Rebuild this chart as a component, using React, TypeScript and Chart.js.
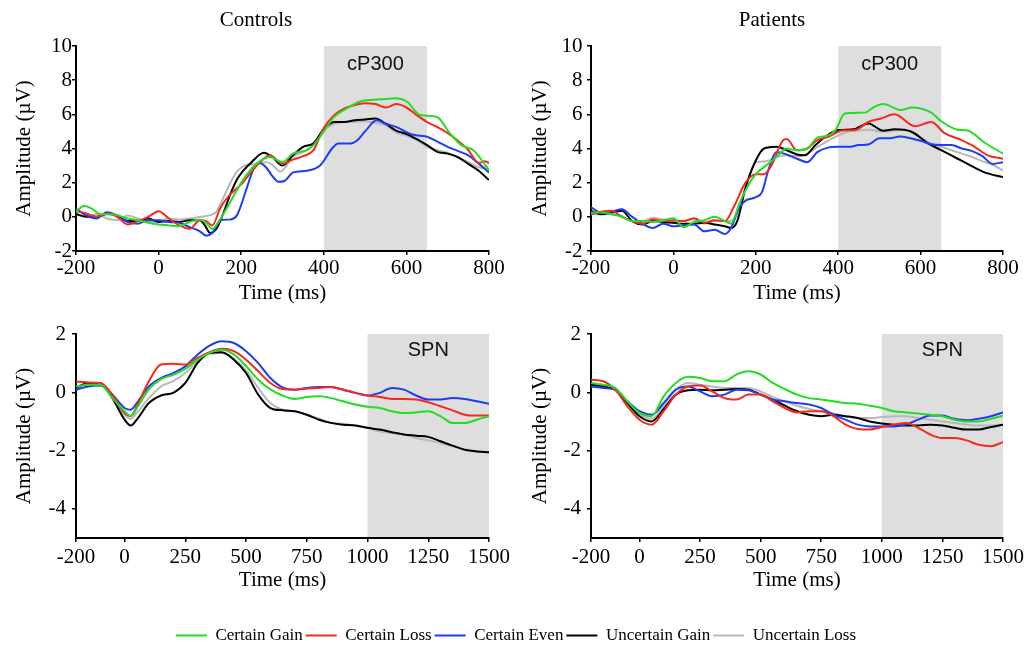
import React, { useEffect, useRef } from "react";
import { Chart, registerables } from "chart.js";

Chart.register(...registerables);

type P = [number, number];

const seriesNames = ["Certain Gain", "Certain Loss", "Certain Even", "Uncertain Gain", "Uncertain Loss"];
const seriesColors = ["#22dd22", "#f52a1e", "#1f3cf5", "#000000", "#b8b8b8"];

const cp300XTicks = [-200, 0, 200, 400, 600, 800];
const cp300YTicks = [-2, 0, 2, 4, 6, 8, 10];
const spnXTicks = [-200, 0, 250, 500, 750, 1000, 1250, 1500];
const spnYTicks = [-4, -2, 0, 2];
const cp300Window = [400, 650];
const spnWindow = [1000, 1500];

// ---- Controls, cP300 ----
const ctrlP3Gain: P[] = [[-200,0.3],[-180,0.65],[-160,0.45],[-140,0.15],[-120,0.15],[-100,0.1],[-75,-0.1],[-50,-0.2],[-25,-0.35],[0,-0.45],[25,-0.5],[50,-0.55],[75,-0.3],[100,-0.15],[115,-0.35],[130,-0.7],[150,-0.1],[172,0.8],[204,2.15],[237,3.1],[269,3.5],[300,3.2],[325,3.7],[359,3.9],[375,4.2],[400,5.0],[425,5.85],[456,6.35],[488,6.75],[520,6.85],[550,6.9],[569,6.94],[601,6.75],[633,5.96],[673,5.86],[705,4.9],[733,4.2],[762,3.9],[780,3.4],[800,2.7]];
const ctrlP3Loss: P[] = [[-200,0.33],[-175,0.2],[-150,0],[-125,0.2],[-100,0],[-75,-0.45],[-50,-0.25],[-25,0],[0,0.33],[25,-0.1],[50,-0.5],[75,-0.7],[100,-0.2],[115,-0.25],[130,-0.5],[150,0.55],[175,1.35],[200,1.9],[225,2.65],[250,3.3],[270,3.6],[300,3.1],[325,3.35],[350,3.55],[375,3.9],[400,5.2],[425,5.95],[450,6.35],[475,6.55],[500,6.65],[525,6.6],[550,6.4],[575,6.6],[600,6.4],[625,5.95],[650,5.55],[675,5.25],[700,4.9],[725,4.45],[750,3.9],[775,3.15],[790,3.25],[800,3.15]];
const ctrlP3Even: P[] = [[-200,0.47],[-175,0.08],[-150,-0.1],[-125,0.27],[-100,0.08],[-75,-0.3],[-50,-0.4],[-25,-0.2],[0,-0.2],[25,-0.3],[50,-0.35],[75,-0.6],[100,-0.85],[115,-1.1],[130,-0.95],[150,-0.2],[175,-0.15],[190,0.1],[200,0.7],[215,1.8],[230,2.8],[245,3.15],[260,2.9],[275,2.4],[290,2.05],[305,2.1],[326,2.6],[359,2.7],[391,3.0],[420,4.0],[435,4.3],[465,4.3],[480,4.45],[500,5.0],[528,5.65],[550,5.45],[576,5.25],[616,4.8],[648,4.7],[675,4.4],[700,4.1],[725,3.85],[750,3.6],[776,3.1],[800,2.6]];
const ctrlP3UGain: P[] = [[-200,0.17],[-175,0],[-150,0],[-125,0.17],[-100,0.08],[-75,-0.25],[-50,-0.25],[-25,-0.1],[0,-0.3],[25,-0.25],[50,-0.3],[75,-0.2],[100,-0.2],[112,-0.5],[125,-0.95],[140,-0.7],[155,0.1],[175,1.4],[190,2.2],[205,2.7],[225,3.2],[255,3.75],[275,3.5],[300,3.0],[325,3.6],[350,4.1],[375,4.3],[400,5.15],[425,5.55],[450,5.55],[475,5.65],[500,5.7],[525,5.75],[550,5.45],[575,5.05],[600,4.85],[625,4.55],[650,4.2],[675,3.8],[700,3.7],[725,3.5],[750,3.1],[775,2.7],[800,2.15]];
const ctrlP3ULoss: P[] = [[-200,0.17],[-175,0],[-150,0.17],[-125,-0.1],[-100,-0.2],[-75,0.08],[-50,-0.1],[-25,-0.3],[0,-0.25],[25,-0.1],[50,-0.15],[75,-0.1],[100,0],[125,0.1],[140,0.3],[165,1.55],[188,2.6],[205,2.95],[237,3.1],[262,3.2],[277,3.0],[295,2.65],[325,3.5],[350,3.8],[375,4.2],[400,5.05],[425,5.45],[450,5.55],[475,5.55],[500,5.6],[525,5.5],[550,5.35],[575,4.95],[600,4.75],[625,4.5],[650,4.1],[675,3.9],[700,3.75],[725,3.45],[750,3.2],[775,2.9],[800,2.8]];

// ---- Patients, cP300 ----
const patP3Gain: P[] = [[-200,0.25],[-175,0.25],[-150,0.15],[-125,0],[-100,-0.25],[-75,-0.25],[-50,-0.3],[-25,-0.2],[0,-0.08],[25,-0.6],[50,-0.3],[75,-0.2],[100,0],[125,-0.25],[140,-0.4],[160,0.75],[175,1.55],[200,2.5],[225,3.0],[250,3.5],[275,4.0],[300,3.9],[325,4.0],[350,4.65],[375,4.75],[394,5.1],[416,6.05],[465,6.1],[485,6.4],[509,6.6],[553,6.25],[578,6.4],[626,6.1],[650,5.6],[690,5.1],[714,5.05],[755,4.35],[800,3.7]];
const patP3Loss: P[] = [[-200,0.15],[-175,0.3],[-150,0.35],[-125,0],[-100,-0.25],[-75,-0.4],[-50,-0.15],[-25,-0.25],[0,-0.2],[25,-0.25],[50,-0.08],[75,-0.35],[100,-0.2],[125,-0.25],[150,0.75],[175,2.0],[200,2.5],[220,2.5],[240,3.1],[265,4.45],[275,4.55],[300,3.9],[325,4.0],[350,4.5],[377,4.69],[409,5.05],[441,5.08],[473,5.55],[505,5.76],[537,6.0],[586,5.3],[626,5.55],[658,4.9],[698,4.5],[731,4.1],[763,3.6],[800,3.4]];
const patP3Even: P[] = [[-200,0.55],[-175,0.25],[-150,0.3],[-125,0.45],[-100,0],[-75,-0.4],[-50,-0.65],[-25,-0.4],[0,-0.55],[25,-0.5],[50,-0.45],[75,-0.85],[100,-0.75],[125,-1.0],[140,-0.65],[160,0.55],[175,0.95],[200,1.15],[215,1.45],[230,2.7],[250,3.8],[275,3.65],[300,3.4],[325,3.2],[350,3.8],[375,4.05],[400,4.1],[425,4.1],[450,4.2],[475,4.25],[500,4.6],[525,4.6],[550,4.7],[575,4.6],[600,4.45],[625,4.25],[650,4.2],[675,4.2],[700,4.0],[725,3.85],[750,3.55],[775,3.1],[800,3.2]];
const patP3UGain: P[] = [[-200,0.35],[-175,0.15],[-150,0.25],[-125,0.35],[-100,-0.25],[-75,-0.45],[-50,-0.25],[-25,-0.3],[0,-0.35],[25,-0.4],[50,-0.4],[75,-0.35],[100,-0.45],[125,-0.55],[140,-0.65],[155,-0.25],[175,1.7],[200,3.3],[220,4.0],[250,4.1],[275,3.9],[300,3.65],[319,3.6],[345,4.2],[369,4.69],[401,5.08],[437,5.12],[473,5.47],[509,5.04],[537,5.12],[578,4.98],[618,4.3],[650,3.9],[690,3.4],[714,3.1],[755,2.6],[800,2.33]];
const patP3ULoss: P[] = [[-200,0.15],[-175,0.15],[-150,0.15],[-125,0.05],[-100,-0.25],[-75,-0.25],[-50,-0.05],[-25,-0.15],[0,-0.25],[25,-0.25],[50,-0.15],[75,-0.4],[100,-0.25],[125,-0.25],[140,-0.25],[155,0.35],[175,1.7],[200,3.2],[225,3.25],[250,3.5],[275,3.6],[300,3.55],[325,3.7],[350,4.1],[375,4.45],[400,4.75],[425,5.0],[450,5.05],[475,5.1],[500,5.0],[525,5.0],[550,5.1],[575,5.0],[600,4.65],[625,4.3],[650,4.1],[675,3.9],[700,3.7],[725,3.5],[750,3.25],[775,3.05],[800,2.7]];

// ---- Controls, SPN ----
const ctrlSpnGain: P[] = [[-200,0.2],[-150,0.26],[-100,0.26],[-50,-0.2],[0,-0.65],[25,-0.82],[50,-0.55],[100,0.1],[150,0.45],[200,0.6],[250,0.8],[300,1.12],[350,1.35],[400,1.46],[450,1.3],[500,0.9],[550,0.43],[600,0.1],[650,-0.11],[700,-0.23],[750,-0.16],[800,-0.14],[850,-0.2],[900,-0.31],[950,-0.42],[1000,-0.5],[1050,-0.54],[1100,-0.65],[1150,-0.71],[1200,-0.69],[1250,-0.65],[1300,-0.82],[1350,-1.05],[1400,-1.05],[1450,-0.94],[1500,-0.82]];
const ctrlSpnLoss: P[] = [[-200,0.37],[-150,0.34],[-100,0.32],[-50,-0.08],[0,-0.71],[25,-0.82],[50,-0.48],[100,0.38],[150,0.95],[200,0.98],[250,0.95],[300,1.18],[350,1.38],[400,1.49],[450,1.41],[500,1.12],[550,0.72],[600,0.32],[650,0.11],[700,0.09],[750,0.13],[800,0.15],[850,0.18],[900,0.09],[950,-0.02],[1000,-0.11],[1050,-0.16],[1100,-0.23],[1150,-0.23],[1200,-0.25],[1250,-0.34],[1300,-0.48],[1350,-0.62],[1400,-0.77],[1450,-0.8],[1500,-0.8]];
const ctrlSpnEven: P[] = [[-200,0.09],[-150,0.2],[-100,0.23],[-50,-0.08],[0,-0.54],[25,-0.6],[50,-0.37],[100,0.2],[150,0.49],[200,0.66],[250,0.89],[300,1.29],[350,1.6],[400,1.75],[450,1.69],[500,1.41],[550,1.0],[600,0.49],[650,0.17],[700,0.09],[750,0.15],[800,0.18],[850,0.18],[900,0.09],[950,-0.02],[1000,-0.11],[1050,-0.02],[1100,0.15],[1150,0.09],[1200,-0.11],[1250,-0.25],[1300,-0.25],[1350,-0.2],[1400,-0.23],[1450,-0.31],[1500,-0.39]];
const ctrlSpnUGain: P[] = [[-200,0.15],[-150,0.32],[-100,0.32],[-50,-0.2],[0,-0.94],[25,-1.14],[50,-0.94],[100,-0.37],[150,-0.11],[200,-0.02],[250,0.32],[300,1.0],[350,1.35],[400,1.37],[450,1.12],[500,0.66],[550,-0.08],[600,-0.54],[650,-0.62],[700,-0.65],[750,-0.77],[800,-0.94],[850,-1.05],[900,-1.11],[950,-1.14],[1000,-1.22],[1050,-1.28],[1100,-1.37],[1150,-1.45],[1200,-1.49],[1250,-1.53],[1300,-1.68],[1350,-1.83],[1400,-1.97],[1450,-2.03],[1500,-2.06]];
const ctrlSpnULoss: P[] = [[-200,0.2],[-150,0.26],[-100,0.26],[-50,-0.2],[0,-0.77],[25,-0.91],[50,-0.71],[100,-0.2],[150,0.2],[200,0.38],[250,0.66],[300,1.06],[350,1.33],[400,1.35],[450,1.14],[500,0.75],[550,0.15],[600,-0.37],[650,-0.6],[700,-0.65],[750,-0.77],[800,-0.91],[850,-1.05],[900,-1.08],[950,-1.14],[1000,-1.22],[1050,-1.34],[1100,-1.4],[1150,-1.45],[1200,-1.57],[1250,-1.65],[1300,-1.74],[1350,-1.85],[1400,-1.97],[1450,-2.02],[1500,-2.06]];

// ---- Patients, SPN ----
const patSpnGain: P[] = [[-200,0.32],[-150,0.26],[-100,0.15],[-50,-0.31],[0,-0.71],[50,-0.82],[100,-0.14],[150,0.32],[200,0.53],[250,0.49],[300,0.38],[350,0.38],[400,0.61],[450,0.72],[500,0.61],[550,0.32],[600,0.11],[650,-0.08],[700,-0.2],[750,-0.25],[800,-0.31],[850,-0.37],[900,-0.39],[950,-0.46],[1000,-0.54],[1050,-0.65],[1100,-0.69],[1150,-0.73],[1200,-0.77],[1250,-0.82],[1300,-0.94],[1350,-1.0],[1400,-1.0],[1450,-0.91],[1500,-0.8]];
const patSpnLoss: P[] = [[-200,0.43],[-150,0.38],[-100,0.09],[-50,-0.48],[0,-0.94],[50,-1.11],[100,-0.65],[150,-0.08],[200,0.2],[250,0.23],[300,0.03],[350,-0.2],[400,-0.25],[450,-0.08],[500,-0.08],[550,-0.31],[600,-0.54],[650,-0.69],[700,-0.65],[750,-0.65],[800,-0.82],[850,-1.11],[900,-1.26],[950,-1.28],[1000,-1.19],[1050,-1.11],[1100,-1.05],[1150,-1.22],[1200,-1.45],[1250,-1.57],[1300,-1.57],[1350,-1.65],[1400,-1.8],[1450,-1.85],[1500,-1.71]];
const patSpnEven: P[] = [[-200,0.2],[-150,0.15],[-100,0.09],[-50,-0.31],[0,-0.65],[50,-0.77],[100,-0.37],[150,0.09],[200,0.2],[250,0.03],[300,-0.14],[350,-0.08],[400,0.09],[450,0.07],[500,-0.08],[550,-0.25],[600,-0.31],[650,-0.37],[700,-0.42],[750,-0.54],[800,-0.77],[850,-0.94],[900,-1.11],[950,-1.17],[1000,-1.17],[1050,-1.17],[1100,-1.11],[1150,-0.94],[1200,-0.8],[1250,-0.8],[1300,-0.91],[1350,-0.96],[1400,-0.91],[1450,-0.82],[1500,-0.69]];
const patSpnUGain: P[] = [[-200,0.26],[-150,0.2],[-100,0.09],[-50,-0.37],[0,-0.82],[50,-1.0],[100,-0.57],[150,-0.08],[200,0.07],[250,0.09],[300,0.07],[350,0.09],[400,0.11],[450,0.09],[500,-0.08],[550,-0.25],[600,-0.46],[650,-0.65],[700,-0.77],[750,-0.82],[800,-0.77],[850,-0.82],[900,-0.88],[950,-1.0],[1000,-1.07],[1050,-1.11],[1100,-1.14],[1150,-1.14],[1200,-1.11],[1250,-1.14],[1300,-1.22],[1350,-1.28],[1400,-1.28],[1450,-1.19],[1500,-1.11]];
const patSpnULoss: P[] = [[-200,0.3],[-150,0.23],[-100,0.11],[-50,-0.31],[0,-0.74],[50,-0.91],[100,-0.46],[150,0.09],[200,0.32],[250,0.26],[300,0.2],[350,0.15],[400,0.15],[450,0.15],[500,0.03],[550,-0.16],[600,-0.31],[650,-0.46],[700,-0.57],[750,-0.65],[800,-0.73],[850,-0.82],[900,-0.88],[950,-0.88],[1000,-0.85],[1050,-0.82],[1100,-0.82],[1150,-0.88],[1200,-0.94],[1250,-1.0],[1300,-1.05],[1350,-1.11],[1400,-1.14],[1450,-1.14],[1500,-1.11]];

const SERIF = '"Liberation Serif", "Times New Roman", serif';
const SANS = '"Liberation Sans", Arial, sans-serif';

const windowPlugin = {
  id: "windowShade",
  beforeDraw(chart: any, _args: any, opts: any) {
    const { ctx, chartArea, scales } = chart;
    const x0 = scales.x.getPixelForValue(opts.from);
    const x1 = scales.x.getPixelForValue(opts.to);
    ctx.save();
    ctx.fillStyle = "#dedede";
    ctx.fillRect(x0, chartArea.top, x1 - x0, chartArea.bottom - chartArea.top);
    ctx.fillStyle = "#111111";
    ctx.font = `20px ${SANS}`;
    ctx.textAlign = "center";
    ctx.textBaseline = "alphabetic";
    ctx.fillText(opts.label, (x0 + x1) / 2, chartArea.top + opts.labelOffset);
    ctx.restore();
  },
};

const panelTitlePlugin = {
  id: "panelTitle",
  afterDraw(chart: any, _args: any, opts: any) {
    if (!opts || !opts.text) return;
    const { ctx } = chart;
    ctx.save();
    ctx.fillStyle = "#000";
    ctx.font = `21px ${SERIF}`;
    ctx.textAlign = "center";
    ctx.textBaseline = "alphabetic";
    ctx.fillText(opts.text, opts.x, opts.y);
    ctx.restore();
  },
};

type PanelProps = {
  left: number; top: number; width: number; height: number;
  title?: string;
  series: P[][];
  xMin: number; xMax: number; yMin: number; yMax: number;
  xTicks: number[]; yTicks: number[];
  win: number[]; winLabel: string; winLabelOffset: number;
  yWidth: number; padRight: number; padTop: number;
  xHeight: number; xTickPad: number; yTickPad: number; xTitlePad: number;
};

function Panel(p: PanelProps) {
  const ref = useRef<HTMLCanvasElement>(null);
  useEffect(() => {
    if (!ref.current) return;
    const axisGrid = { display: true, drawOnChartArea: false, drawTicks: true, tickLength: 4, color: "#000", lineWidth: 1.5 };
    const chart = new Chart(ref.current, {
      type: "line",
      data: {
        datasets: p.series.map((s, i) => ({
          label: seriesNames[i],
          data: s.map(([x, y]) => ({ x, y })),
          borderColor: seriesColors[i],
          backgroundColor: seriesColors[i],
          borderWidth: 2,
          pointRadius: 0,
          cubicInterpolationMode: "monotone" as const,
          fill: false,
        })),
      },
      plugins: [windowPlugin as any, panelTitlePlugin as any],
      options: {
        animation: false,
        responsive: false,
        events: [],
        layout: { padding: { left: 0, right: p.padRight, top: p.padTop, bottom: 0 } },
        plugins: {
          legend: { display: false },
          tooltip: { enabled: false },
          title: { display: false },
          panelTitle: { text: p.title || "", x: 256, y: 26 },
          windowShade: { from: p.win[0], to: p.win[1], label: p.winLabel, labelOffset: p.winLabelOffset },
        } as any,
        scales: {
          x: {
            type: "linear",
            min: p.xMin,
            max: p.xMax,
            afterBuildTicks: (s: any) => { s.ticks = p.xTicks.map((v) => ({ value: v })); },
            afterFit: (s: any) => { s.height = p.xHeight; },
            border: { display: true, color: "#000", width: 2 },
            grid: axisGrid,
            ticks: { color: "#000", font: { family: SERIF, size: 21 }, padding: p.xTickPad, maxRotation: 0, autoSkip: false, callback: (v: any) => String(v) },
            title: { display: true, text: "Time (ms)", color: "#000", font: { family: SERIF, size: 21 }, padding: { top: 0, bottom: p.xTitlePad } },
          },
          y: {
            type: "linear",
            min: p.yMin,
            max: p.yMax,
            afterBuildTicks: (s: any) => { s.ticks = p.yTicks.map((v) => ({ value: v })); },
            afterFit: (s: any) => { s.width = p.yWidth; },
            border: { display: true, color: "#000", width: 2 },
            grid: axisGrid,
            ticks: { color: "#000", font: { family: SERIF, size: 21 }, padding: p.yTickPad, callback: (v: any) => String(v) },
            title: { display: true, text: "Amplitude (\u00B5V)", color: "#000", font: { family: SERIF, size: 21 }, padding: { top: 11.5, bottom: 0 } },
          },
        },
      } as any,
    });
    return () => chart.destroy();
  }, []);
  return (
    <canvas
      ref={ref}
      width={p.width}
      height={p.height}
      style={{ position: "absolute", left: p.left, top: p.top, width: p.width, height: p.height }}
    />
  );
}

function Legend() {
  const ref = useRef<HTMLCanvasElement>(null);
  useEffect(() => {
    if (!ref.current) return;
    const chart = new Chart(ref.current, {
      type: "line",
      data: {
        datasets: seriesNames.map((n, i) => ({ label: n, data: [], borderColor: seriesColors[i], backgroundColor: seriesColors[i], borderWidth: 2 })),
      },
      options: {
        animation: false,
        responsive: false,
        events: [],
        layout: { padding: 0 },
        scales: { x: { display: false }, y: { display: false } },
        plugins: {
          tooltip: { enabled: false },
          legend: {
            display: true,
            position: "top",
            labels: { usePointStyle: true, pointStyle: "line", pointStyleWidth: 31, color: "#000", font: { family: SERIF, size: 17 }, padding: 3 },
          },
        },
      } as any,
    });
    return () => chart.destroy();
  }, []);
  return <canvas ref={ref} width={1032} height={80} style={{ position: "absolute", left: 0, top: 624, width: 1032, height: 80 }} />;
}

export default function App() {
  const topCommon = {
    top: 0, height: 310, width: 516,
    xMin: -200, xMax: 800, yMin: -2, yMax: 10,
    xTicks: cp300XTicks, yTicks: cp300YTicks,
    win: cp300Window, winLabel: "cP300", winLabelOffset: 24,
    padTop: 46, xHeight: 59, xTickPad: 1, xTitlePad: 4,
  };
  const botCommon = {
    top: 310, height: 300, width: 516,
    xMin: -200, xMax: 1500, yMin: -5, yMax: 2,
    xTicks: spnXTicks, yTicks: spnYTicks,
    win: spnWindow, winLabel: "SPN", winLabelOffset: 22,
    padTop: 24, xHeight: 72, xTickPad: 3, xTitlePad: 17,
  };
  return (
    <div style={{ position: "absolute", left: 0, top: 0, width: 1032, height: 650, background: "#fff", overflow: "hidden" }}>
      <Panel {...topCommon} left={0} title="Controls" series={[ctrlP3Gain, ctrlP3Loss, ctrlP3Even, ctrlP3UGain, ctrlP3ULoss]} yWidth={76} padRight={27} yTickPad={0} />
      <Panel {...topCommon} left={516} title="Patients" series={[patP3Gain, patP3Loss, patP3Even, patP3UGain, patP3ULoss]} yWidth={75} padRight={29} yTickPad={4.5} />
      <Panel {...botCommon} left={0} series={[ctrlSpnGain, ctrlSpnLoss, ctrlSpnEven, ctrlSpnUGain, ctrlSpnULoss]} yWidth={76} padRight={27} yTickPad={6} />
      <Panel {...botCommon} left={516} series={[patSpnGain, patSpnLoss, patSpnEven, patSpnUGain, patSpnULoss]} yWidth={75} padRight={29} yTickPad={6} />
      <Legend />
    </div>
  );
}
